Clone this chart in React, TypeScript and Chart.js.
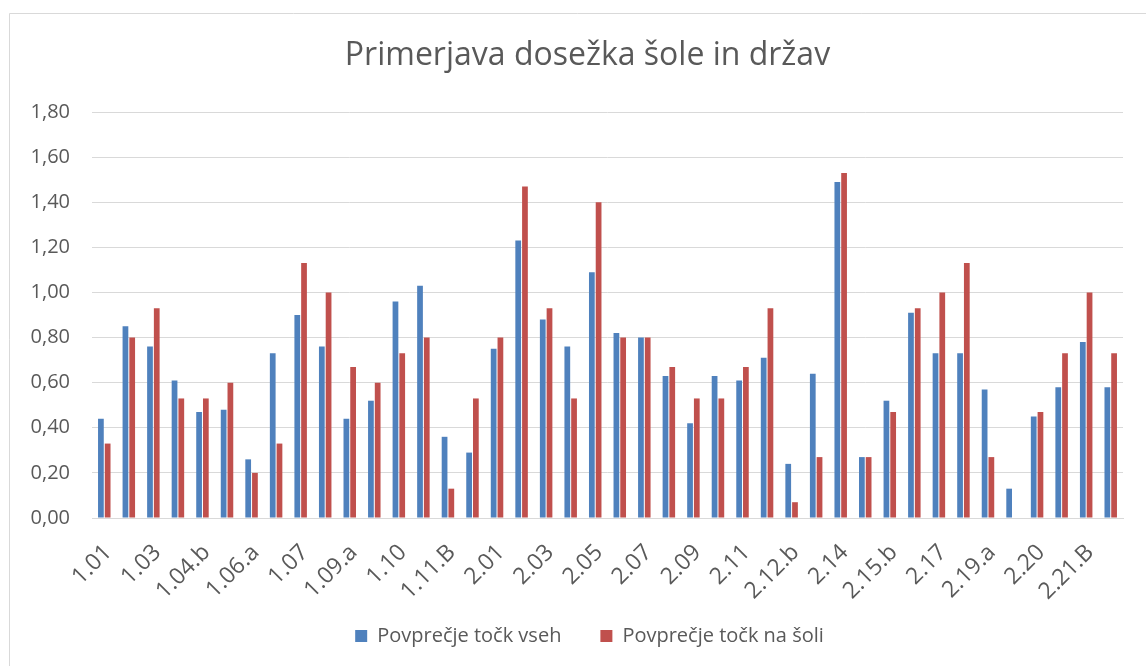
import React, { useEffect, useRef } from "react";
import { Chart, registerables } from "chart.js";

Chart.register(...registerables);

const categories = [
  "1.01", "1.02", "1.03", "1.04.a", "1.04.b", "1.05", "1.06.a", "1.06.b", "1.07", "1.08",
  "1.09.a", "1.09.b", "1.10", "1.11.A", "1.11.B", "1.12", "2.01", "2.02", "2.03", "2.04",
  "2.05", "2.06", "2.07", "2.08", "2.09", "2.10", "2.11", "2.12.a", "2.12.b", "2.13",
  "2.14", "2.15.a", "2.15.b", "2.16", "2.17", "2.18", "2.19.a", "2.19.b", "2.20", "2.21.A",
  "2.21.B", "2.22",
];

const povprecjeVseh = [
  0.44, 0.85, 0.76, 0.61, 0.47, 0.48, 0.26, 0.73, 0.9, 0.76,
  0.44, 0.52, 0.96, 1.03, 0.36, 0.29, 0.75, 1.23, 0.88, 0.76,
  1.09, 0.82, 0.8, 0.63, 0.42, 0.63, 0.61, 0.71, 0.24, 0.64,
  1.49, 0.27, 0.52, 0.91, 0.73, 0.73, 0.57, 0.13, 0.45, 0.58,
  0.78, 0.58,
];

const povprecjeSole = [
  0.33, 0.8, 0.93, 0.53, 0.53, 0.6, 0.2, 0.33, 1.13, 1.0,
  0.67, 0.6, 0.73, 0.8, 0.13, 0.53, 0.8, 1.47, 0.93, 0.53,
  1.4, 0.8, 0.8, 0.67, 0.53, 0.53, 0.67, 0.93, 0.07, 0.27,
  1.53, 0.27, 0.47, 0.93, 1.0, 1.13, 0.27, 0, 0.47, 0.73,
  1.0, 0.73,
];

const seriesNames = ["Povprečje točk vseh", "Povprečje točk na šoli"];
const titleText = "Primerjava dosežka šole in držav";

const FONT = "'Open Sans', sans-serif";
const TEXT = "#595959";

const frame = {
  id: "frame",
  afterLayout(chart: any) {
    if (chart.legend) chart.legend.left = 56;
    if (chart.titleBlock) chart.titleBlock.left = 52;
  },
  beforeDraw(chart: any) {
    const x = chart.scales && chart.scales.x;
    if (x) {
      x.bottom = chart.height;
      x.height = chart.height - x.top;
      x._computeLabelArea = () => undefined;
    }
    const ctx = chart.ctx;
    ctx.save();
    ctx.fillStyle = "#ffffff";
    ctx.fillRect(0, 0, chart.width, chart.height);
    ctx.strokeStyle = "#d9d9d9";
    ctx.lineWidth = 1;
    ctx.beginPath();
    ctx.moveTo(9.5, chart.height);
    ctx.lineTo(9.5, 13.5);
    ctx.lineTo(chart.width, 13.5);
    ctx.stroke();
    ctx.restore();
  },
};

export default function App() {
  const ref = useRef<HTMLCanvasElement | null>(null);

  useEffect(() => {
    document.body.style.margin = "0";
    const canvas = ref.current;
    if (!canvas) return;
    const chart = new Chart(canvas, {
      type: "bar",
      data: {
        labels: categories,
        datasets: [
          {
            label: seriesNames[0],
            data: povprecjeVseh,
            backgroundColor: "#4F81BD",
            categoryPercentage: 0.55,
            barPercentage: 0.85,
          },
          {
            label: seriesNames[1],
            data: povprecjeSole,
            backgroundColor: "#C0504D",
            categoryPercentage: 0.55,
            barPercentage: 0.85,
          },
        ],
      },
      options: {
        animation: false,
        responsive: false,
        maintainAspectRatio: false,
        layout: { padding: { left: 20, right: 23, top: 0, bottom: 10 } },
        plugins: {
          title: {
            display: true,
            text: titleText,
            color: TEXT,
            font: { family: FONT, size: 32, weight: "normal" },
            padding: { top: 37, bottom: 36.6 },
          },
          legend: {
            position: "bottom",
            labels: {
              color: TEXT,
              font: { family: FONT, size: 20 },
              boxWidth: 12,
              boxHeight: 12,
              padding: 39,
            },
          },
          tooltip: { enabled: false },
        },
        scales: {
          x: {
            grid: { display: false },
            border: { display: true, color: "#d9d9d9" },
            ticks: {
              autoSkip: false,
              minRotation: 45,
              maxRotation: 45,
              color: TEXT,
              padding: 13,
              labelOffset: 4,
              font: { family: FONT, size: 23 },
              callback: (_v: any, i: number) => (i % 2 === 0 ? categories[i] : ""),
            },
            afterFit: (s: any) => {
              s.height = 69;
            },
          },
          y: {
            min: 0,
            max: 1.8,
            grid: { color: "#d9d9d9", drawTicks: false },
            border: { display: false },
            ticks: {
              stepSize: 0.2,
              color: TEXT,
              padding: 22,
              font: { family: FONT, size: 20 },
              callback: (v: any) => Number(v).toFixed(2).replace(".", ","),
            },
            afterFit: (s: any) => {
              s.width = 72;
            },
          },
        },
      },
      plugins: [frame],
    });
    return () => chart.destroy();
  }, []);

  return (
    <div style={{ width: 1146, height: 666 }}>
      <canvas ref={ref} width={1146} height={666} style={{ display: "block" }} />
    </div>
  );
}
